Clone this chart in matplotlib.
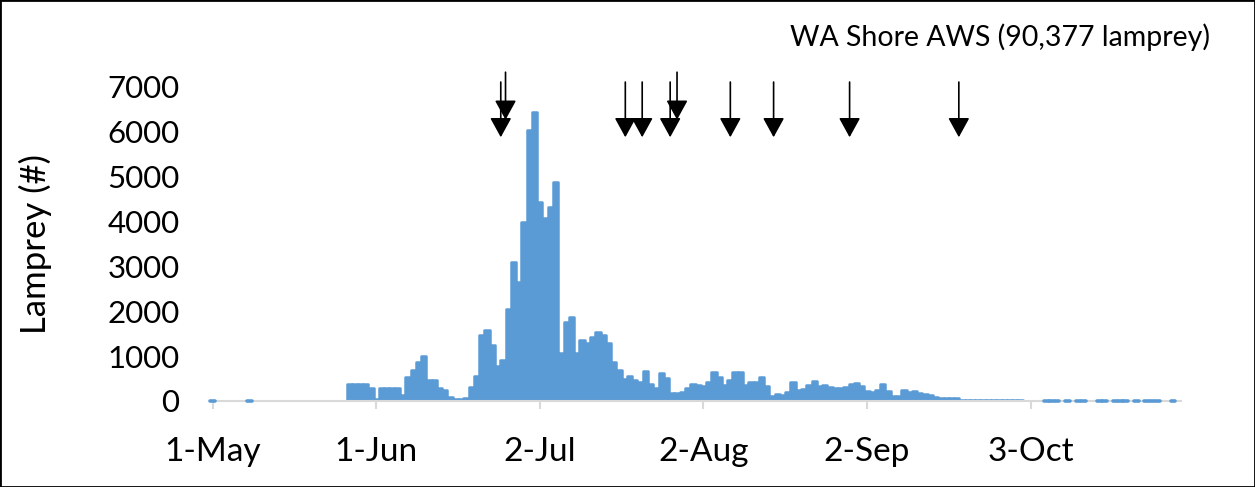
import numpy as np
import matplotlib
matplotlib.use("Agg")
import matplotlib.pyplot as plt
from matplotlib.patches import Rectangle, FancyArrowPatch

nan = np.nan

# Daily lamprey counts, 1 May - 31 Oct (nan = no count that day)
may_counts = [0, nan, nan, nan, nan, nan, nan, 0, nan, nan,
              nan, nan, nan, nan, nan, nan, nan, nan, nan, nan,
              nan, nan, nan, nan, nan, nan, 390, 390, 390, 385,
              280]
jun_counts = [35, 285, 285, 285, 285, 130, 540, 690, 875, 1000,
              460, 470, 283, 250, 90, 55, 55, 65, 310, 560,
              1470, 1580, 1250, 770, 910, 2060, 3100, 2660, 4000, 6050]
jul_counts = [6450, 4430, 4070, 4330, 4880, 1060, 1770, 1880, 1080, 1360,
              1285, 1435, 1545, 1470, 1285, 870, 690, 495, 557, 460,
              430, 670, 375, 290, 617, 510, 185, 185, 195, 300,
              385]
aug_counts = [365, 334, 415, 653, 542, 350, 475, 653, 653, 357,
              430, 430, 530, 340, 115, 155, 125, 207, 417, 235,
              270, 357, 440, 334, 350, 312, 300, 290, 305, 372,
              394]
sep_counts = [327, 215, 200, 238, 372, 223, 111, 115, 245, 190,
              215, 185, 160, 126, 90, 75, 75, 70, 65, 30,
              30, 25, 25, 30, 25, 20, 25, 20, 25, 20]
oct_counts = [20, nan, nan, nan, nan, 0, 0, 0, nan, 0,
              nan, 0, 0, nan, nan, 0, 0, nan, 0, 0,
              0, nan, 0, nan, 0, 0, 0, nan, nan, 0,
              nan]

# Axis labels (day offsets from 1 May)
tick_days = [0, 31, 62, 93, 124, 155]
tick_labels = ["1-May", "1-Jun", "2-Jul", "2-Aug", "2-Sep", "3-Oct"]
y_ticks = [0, 1000, 2000, 3000, 4000, 5000, 6000, 7000]

# Release events marked with arrows (day offset, tip height, tail height)
arrow_days = [54.6, 55.5, 78.2, 81.4, 86.7, 88.0, 98.1, 106.3, 120.7, 141.4]
arrow_tips = [5880, 6270, 5880, 5880, 5880, 6270, 5880, 5880, 5880, 5880]
arrow_tails = [7110, 7330, 7110, 7110, 7110, 7330, 7110, 7110, 7110, 7110]

title_text = "WA Shore AWS (90,377 lamprey)"
y_label = "Lamprey (#)"

counts = np.array(may_counts + jun_counts + jul_counts + aug_counts
                  + sep_counts + oct_counts, dtype=float)
days = np.arange(len(counts))
valid = ~np.isnan(counts)
zero_days = days[valid & (np.nan_to_num(counts, nan=-1) == 0)]

plt.rcParams["font.family"] = ["Lato", "DejaVu Sans"]

W, H = 1255, 487
fig = plt.figure(figsize=(W / 100, H / 100), dpi=100)
ax = fig.add_axes([210 / W, 86 / H, (1181 - 210) / W, (401 - 87) / H])

blue = "#5B9BD5"
ax.bar(days[valid], counts[valid], width=1.0, color=blue, edgecolor=blue,
       linewidth=1.8, joinstyle="round", zorder=1)

# zero-count days still show as a thin mark on the baseline
zl = ax.hlines(np.zeros(len(zero_days)), zero_days - 0.45, zero_days + 0.45,
               colors=blue, linewidth=2.6, zorder=3, clip_on=False)
zl.set_capstyle("round")

ax.set_xlim(-0.5, len(counts) - 0.5)
ax.set_ylim(0, 7000)

ax.set_xticks(tick_days)
ax.set_xticklabels(tick_labels)
ax.set_yticks(y_ticks)
ax.set_yticklabels([str(v) for v in y_ticks])
ax.tick_params(axis="x", length=6, width=1.5, color="#D9D9D9", pad=20,
               labelsize=24, labelcolor="black")
ax.tick_params(axis="y", length=0, pad=22, labelsize=22.5, labelcolor="black")

for side in ("left", "top", "right"):
    ax.spines[side].set_visible(False)
ax.spines["bottom"].set_color("#D9D9D9")
ax.spines["bottom"].set_linewidth(1.5)
ax.spines["bottom"].set_zorder(2.5)

ax.set_ylabel(y_label, fontsize=25)
ax.yaxis.set_label_coords((52 - 210) / (1181 - 210), 0.5)

for d, tip, tail in zip(arrow_days, arrow_tips, arrow_tails):
    arr = FancyArrowPatch((d, tail), (d, tip),
                          arrowstyle="-|>,head_length=1.0,head_width=0.55",
                          mutation_scale=12, color="black", linewidth=1.2,
                          shrinkA=0, shrinkB=0, clip_on=False, zorder=4)
    ax.add_patch(arr)

fig.text(1210 / W, 1 - 37 / H, title_text, ha="right", va="center",
         fontsize=20.5)

fig.patches.append(Rectangle((0, 0), 1, 1, transform=fig.transFigure,
                             fill=False, edgecolor="black", linewidth=2))

fig.savefig("out.png", dpi=100)
